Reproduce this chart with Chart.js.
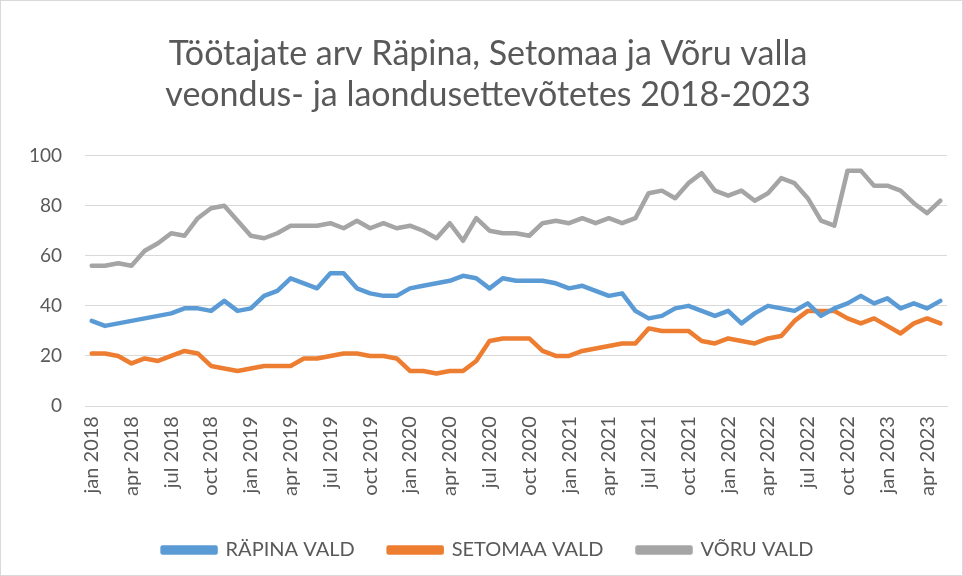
<!DOCTYPE html>
<html>
<head>
<meta charset="utf-8">
<script src="https://cdn.jsdelivr.net/npm/chart.js@4.4.0/dist/chart.umd.min.js"></script>
<style>
  html, body { margin: 0; padding: 0; background: #fff; }
  #wrap { width: 963px; height: 576px; box-sizing: border-box; border: 1px solid #d9d9d9; }
  canvas { display: block; }
</style>
</head>
<body>
<div id="wrap"><canvas id="chart" width="961" height="574"></canvas></div>
<script>
// months jan 2018 .. may 2023
const monthNames = ['jan', 'feb', 'mar', 'apr', 'may', 'jun', 'jul', 'aug', 'sep', 'oct', 'nov', 'dec'];
const startYear = 2018;
const monthCount = 65;
const labels = [];
for (let i = 0; i < monthCount; i++) {
  labels.push(monthNames[i % 12] + ' ' + (startYear + Math.floor(i / 12)));
}

const rapina = [34, 32, 33, 34, 35, 36, 37, 39, 39, 38, 42, 38, 39, 44, 46, 51, 49, 47, 53, 53,
  47, 45, 44, 44, 47, 48, 49, 50, 52, 51, 47, 51, 50, 50, 50, 49, 47, 48, 46, 44,
  45, 38, 35, 36, 39, 40, 38, 36, 38, 33, 37, 40, 39, 38, 41, 36, 39, 41, 44, 41,
  43, 39, 41, 39, 42];
const setomaa = [21, 21, 20, 17, 19, 18, 20, 22, 21, 16, 15, 14, 15, 16, 16, 16, 19, 19, 20, 21,
  21, 20, 20, 19, 14, 14, 13, 14, 14, 18, 26, 27, 27, 27, 22, 20, 20, 22, 23, 24,
  25, 25, 31, 30, 30, 30, 26, 25, 27, 26, 25, 27, 28, 34, 38, 38, 38, 35, 33, 35,
  32, 29, 33, 35, 33];
const voru = [56, 56, 57, 56, 62, 65, 69, 68, 75, 79, 80, 74, 68, 67, 69, 72, 72, 72, 73, 71,
  74, 71, 73, 71, 72, 70, 67, 73, 66, 75, 70, 69, 69, 68, 73, 74, 73, 75, 73, 75,
  73, 75, 85, 86, 83, 89, 93, 86, 84, 86, 82, 85, 91, 89, 83, 74, 72, 94, 94, 88,
  88, 86, 81, 77, 82];
const yTicks = [0, 20, 40, 60, 80, 100];

const textColor = '#595959';
const gridColor = '#d9d9d9';
const fontFamily = 'Lato, "Open Sans", sans-serif';

function series(label, data, color) {
  return {
    label: label,
    data: data,
    borderColor: color,
    backgroundColor: color,
    borderWidth: 4.5,
    pointRadius: 0,
    tension: 0,
    borderCapStyle: 'round',
    borderJoinStyle: 'round'
  };
}

new Chart(document.getElementById('chart'), {
  type: 'line',
  data: {
    labels: labels,
    datasets: [
      series('RÄPINA VALD', rapina, '#5b9bd5'),
      series('SETOMAA VALD', setomaa, '#ed7d31'),
      series('VÕRU VALD', voru, '#a5a5a5')
    ]
  },
  options: {
    responsive: false,
    animation: false,
    layout: { padding: { top: 33, left: 28, right: 15, bottom: 5 } },
    plugins: {
      title: {
        display: true,
        text: ['Töötajate arv Räpina, Setomaa ja Võru valla', 'veondus- ja laondusettevõtetes 2018-2023'],
        color: textColor,
        font: { family: fontFamily, size: 34, weight: 'normal', lineHeight: 1.2 },
        padding: { top: 0, bottom: 40 }
      },
      legend: {
        position: 'bottom',
        labels: {
          color: textColor,
          font: { family: fontFamily, size: 20 },
          boxWidth: 53,
          boxHeight: 5,
          padding: 34
        }
      },
      tooltip: { enabled: false }
    },
    scales: {
      x: {
        offset: true,
        afterFit: function (scale) {
          scale.paddingLeft = 0;
          scale.paddingRight = 0;
        },
        grid: { display: false, drawTicks: false },
        border: { color: gridColor },
        ticks: {
          autoSkip: false,
          maxRotation: 90,
          minRotation: 90,
          padding: 10,
          color: textColor,
          font: { family: fontFamily, size: 20 },
          callback: function (value, index) {
            return index % 3 === 0 ? labels[index] : '';
          }
        }
      },
      y: {
        min: 0,
        max: 100,
        afterBuildTicks: function (axis) {
          axis.ticks = yTicks.map(function (v) { return { value: v }; });
        },
        afterFit: function (scale) {
          scale.width -= 23;
        },
        grid: { color: gridColor, drawTicks: false },
        border: { display: false },
        ticks: {
          padding: 23,
          color: textColor,
          font: { family: fontFamily, size: 19 }
        }
      }
    }
  }
});
</script>
</body>
</html>
